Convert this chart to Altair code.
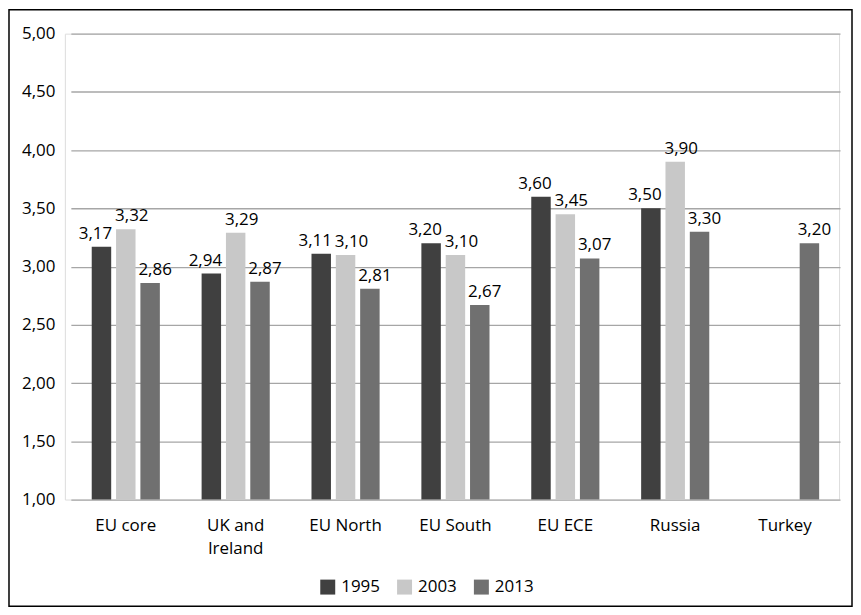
import altair as alt
import pandas as pd

regions = ["EU core", "UK and Ireland", "EU North", "EU South", "EU ECE", "Russia", "Turkey"]
years = ["1995", "2003", "2013"]
v1995 = [3.17, 2.94, 3.11, 3.20, 3.60, 3.50, None]
v2003 = [3.32, 3.29, 3.10, 3.10, 3.45, 3.90, None]
v2013 = [2.86, 2.87, 2.81, 2.67, 3.07, 3.30, 3.20]
colors = ["#404040", "#c8c8c8", "#707070"]

rows = []
for i, r in enumerate(regions):
    for y, vals in zip(years, [v1995, v2003, v2013]):
        if vals[i] is not None:
            rows.append({"region": r, "year": y, "value": vals[i]})
df = pd.DataFrame(rows)

FONT = "Open Sans"
FS = 17
W, H = 776, 467

xscale = alt.Scale(paddingInner=0.38, paddingOuter=0.19, range=[6, 777])
xenc = alt.X("region:N", sort=regions, title=None, scale=xscale,
             axis=alt.Axis(labelAngle=0, ticks=False, domain=False, labelPadding=18,
                           labelFontSize=FS, labelFont=FONT, labelColor="#000000",
                           labelLineHeight=23,
                           labelExpr="datum.value == 'UK and Ireland' ? ['UK and', 'Ireland'] : datum.value"))
xoff = alt.XOffset("year:N", sort=years, scale=alt.Scale(paddingInner=0.2, paddingOuter=0))
yscale = alt.Scale(domain=[1, 5], zero=False, nice=False)

bars = alt.Chart(df).mark_bar().encode(
    x=xenc,
    xOffset=xoff,
    y=alt.Y("value:Q", scale=yscale, title=None,
            axis=alt.Axis(values=[1, 1.5, 2, 2.5, 3, 3.5, 4, 4.5, 5], ticks=False, domain=False,
                          labelPadding=10, labelFontSize=FS, labelFont=FONT, labelColor="#000000",
                          gridColor="#a6a6a6", gridWidth=1.3,
                          labelExpr="replace(format(datum.value, '.2f'), '.', ',')")),
    y2=alt.datum(1),
    color=alt.Color("year:N", sort=years, scale=alt.Scale(domain=years, range=colors),
                    legend=alt.Legend(title=None, orient="none", direction="horizontal",
                                      legendX=255, legendY=546, symbolType="square",
                                      symbolSize=225, symbolStrokeWidth=0, symbolOpacity=1,
                                      labelFontSize=FS, labelFont=FONT, labelColor="#000000",
                                      labelOffset=5, columnPadding=16)),
)

label_layers = []
for yr, dx in zip(years, [-6, 6, 5]):
    label_layers.append(
        alt.Chart(df).transform_filter(alt.datum.year == yr).transform_calculate(
            lab="replace(format(datum.value, '.2f'), '.', ',')"
        ).mark_text(baseline="bottom", dy=-4, dx=dx, fontSize=FS, font=FONT, color="#000000").encode(
            x=alt.X("region:N", sort=regions, scale=xscale),
            xOffset=alt.XOffset("year:N", sort=years),
            y=alt.Y("value:Q", scale=yscale),
            text="lab:N",
        )
    )

border = alt.Chart(pd.DataFrame({"a": [0]})).mark_rect(
    fill=None, stroke="#000000", strokeWidth=1.5, clip=False
).encode(
    x=alt.value(-56), x2=alt.value(789), y=alt.value(-24), y2=alt.value(574)
)

chart = alt.layer(border, bars, *label_layers).properties(
    width=W, height=H,
    autosize=alt.AutoSizeParams(type="none"),
    padding={"left": 57, "top": 25, "right": 14, "bottom": 108},
).configure_view(stroke=None).configure(background="#ffffff")

chart.save("out.html", embed_options={"renderer": "svg", "actions": False})
